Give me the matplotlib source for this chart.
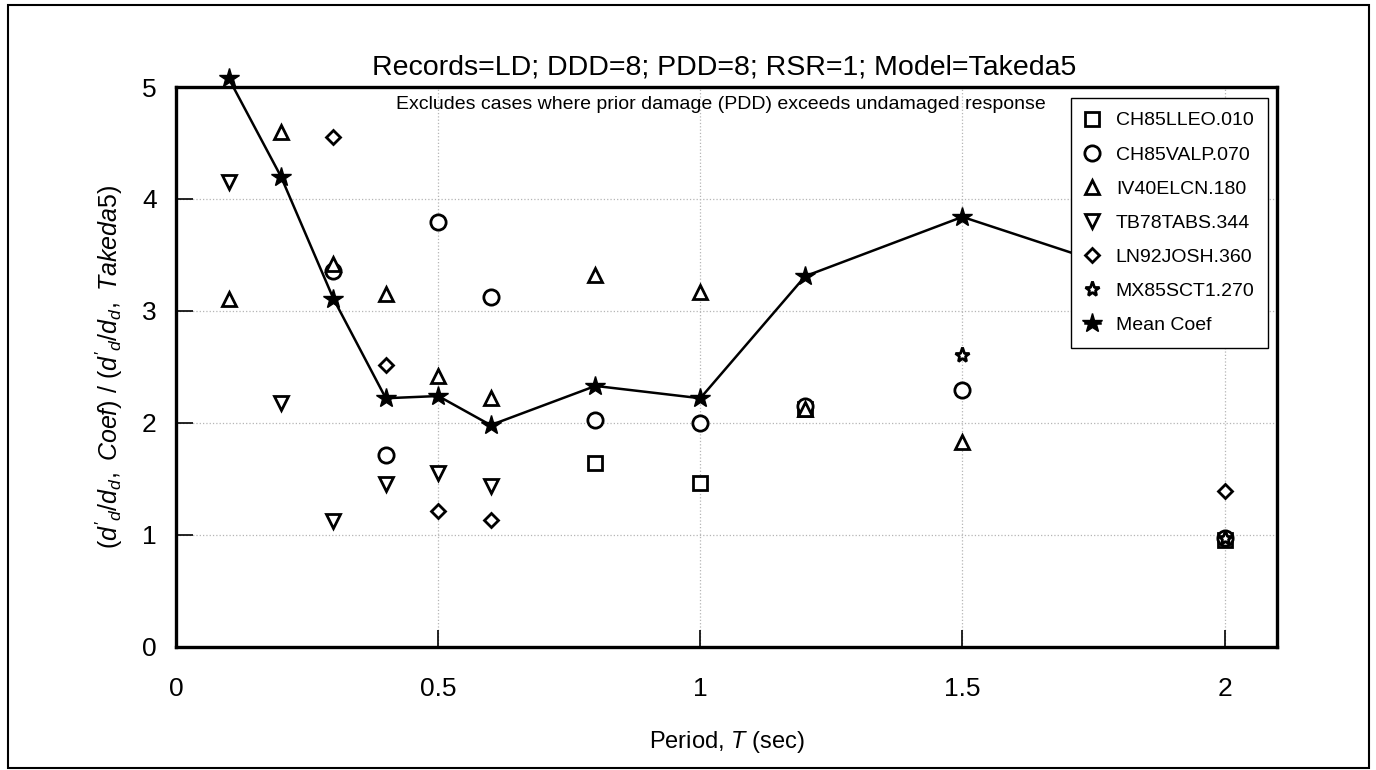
import matplotlib.pyplot as plt
from matplotlib.patches import Rectangle

plt.rcParams['font.family'] = ['Liberation Sans', 'DejaVu Sans']
plt.rcParams['mathtext.fontset'] = 'custom'
plt.rcParams['mathtext.rm'] = 'Liberation Sans'
plt.rcParams['mathtext.it'] = 'Liberation Sans:italic'

# Data (period T in sec, coefficient ratio)
ch85lleo_t = [0.8, 1.0, 1.2, 2.0]
ch85lleo_v = [1.64, 1.46, 2.12, 0.95]

ch85valp_t = [0.3, 0.4, 0.5, 0.6, 0.8, 1.0, 1.2, 1.5, 2.0]
ch85valp_v = [3.36, 1.71, 3.79, 3.12, 2.03, 2.00, 2.15, 2.29, 0.97]

iv40elcn_t = [0.1, 0.2, 0.3, 0.4, 0.5, 0.6, 0.8, 1.0, 1.2, 1.5]
iv40elcn_v = [3.11, 4.60, 3.42, 3.15, 2.42, 2.22, 3.32, 3.17, 2.12, 1.83]

tb78tabs_t = [0.1, 0.2, 0.3, 0.4, 0.5, 0.6]
tb78tabs_v = [4.15, 2.18, 1.12, 1.45, 1.55, 1.44]

ln92josh_t = [0.3, 0.4, 0.5, 0.6, 2.0]
ln92josh_v = [4.55, 2.52, 1.21, 1.13, 1.39]

mx85sct1_t = [1.5, 2.0]
mx85sct1_v = [2.61, 0.97]

mean_t = [0.1, 0.2, 0.3, 0.4, 0.5, 0.6, 0.8, 1.0, 1.2, 1.5, 2.0]
mean_v = [5.08, 4.20, 3.11, 2.22, 2.24, 1.98, 2.33, 2.22, 3.31, 3.84, 3.07]

fig = plt.figure(figsize=(13.76, 7.7), dpi=100)
ax = fig.add_axes([0.128, 0.16, 0.8, 0.727])

mk = dict(linestyle='none', markerfacecolor='white', markeredgecolor='black',
          markeredgewidth=2.0, clip_on=False)
ax.plot(ch85lleo_t, ch85lleo_v, marker='s', markersize=10, label='CH85LLEO.010', **mk)
ax.plot(ch85valp_t, ch85valp_v, marker='o', markersize=11, label='CH85VALP.070', **mk)
ax.plot(iv40elcn_t, iv40elcn_v, marker='^', markersize=10, label='IV40ELCN.180', **mk)
ax.plot(tb78tabs_t, tb78tabs_v, marker='v', markersize=10, label='TB78TABS.344', **mk)
ax.plot(ln92josh_t, ln92josh_v, marker='D', markersize=7, label='LN92JOSH.360', **mk)
ax.plot(mx85sct1_t, mx85sct1_v, marker='*', markersize=11, label='MX85SCT1.270', **mk)
ax.plot(mean_t, mean_v, color='black', linewidth=1.8, marker='*', markersize=15,
        markerfacecolor='black', markeredgecolor='black', label='Mean Coef',
        clip_on=False, zorder=3)

ax.set_xlim(0, 2.1)
ax.set_ylim(0, 5)
ax.set_xticks([0, 0.5, 1, 1.5, 2])
ax.set_xticklabels(['0', '0.5', '1', '1.5', '2'])
ax.set_yticks([0, 1, 2, 3, 4, 5])
ax.tick_params(direction='in', length=12, width=1.2, labelsize=19, pad=14)
ax.tick_params(axis='x', pad=22)
ax.grid(True, color='#b5b5b5', linestyle=':', linewidth=0.9)
for s in ax.spines.values():
    s.set_linewidth(2.4)

ax.set_xlabel('Period, $T$ (sec)', fontsize=17, labelpad=20)
ax.set_ylabel(r"$(d'_d/d_d,\mathrm{\ }Coef)\ /\ (d'_d/d_d,\mathrm{\ }Takeda5)$",
              fontsize=18, labelpad=12)

fig.text(0.526, 0.912, 'Records=LD; DDD=8; PDD=8; RSR=1; Model=Takeda5',
         ha='center', va='center', fontsize=20.5)
ax.text(0.495, 0.968, 'Excludes cases where prior damage (PDD) exceeds undamaged response',
        transform=ax.transAxes, ha='center', va='center', fontsize=14)

leg = ax.legend(loc='upper right', bbox_to_anchor=(0.992, 0.98), borderaxespad=0,
                fontsize=14, handlelength=0.8, handletextpad=0.8, labelspacing=0.85,
                fancybox=False, framealpha=1, edgecolor='black', borderpad=0.7)
leg.get_frame().set_linewidth(1.0)

fig.patches.append(Rectangle((0.006, 0.003), 0.989, 0.99, transform=fig.transFigure,
                             fill=False, edgecolor='black', linewidth=1.5))

fig.savefig('out.png', dpi=100)
